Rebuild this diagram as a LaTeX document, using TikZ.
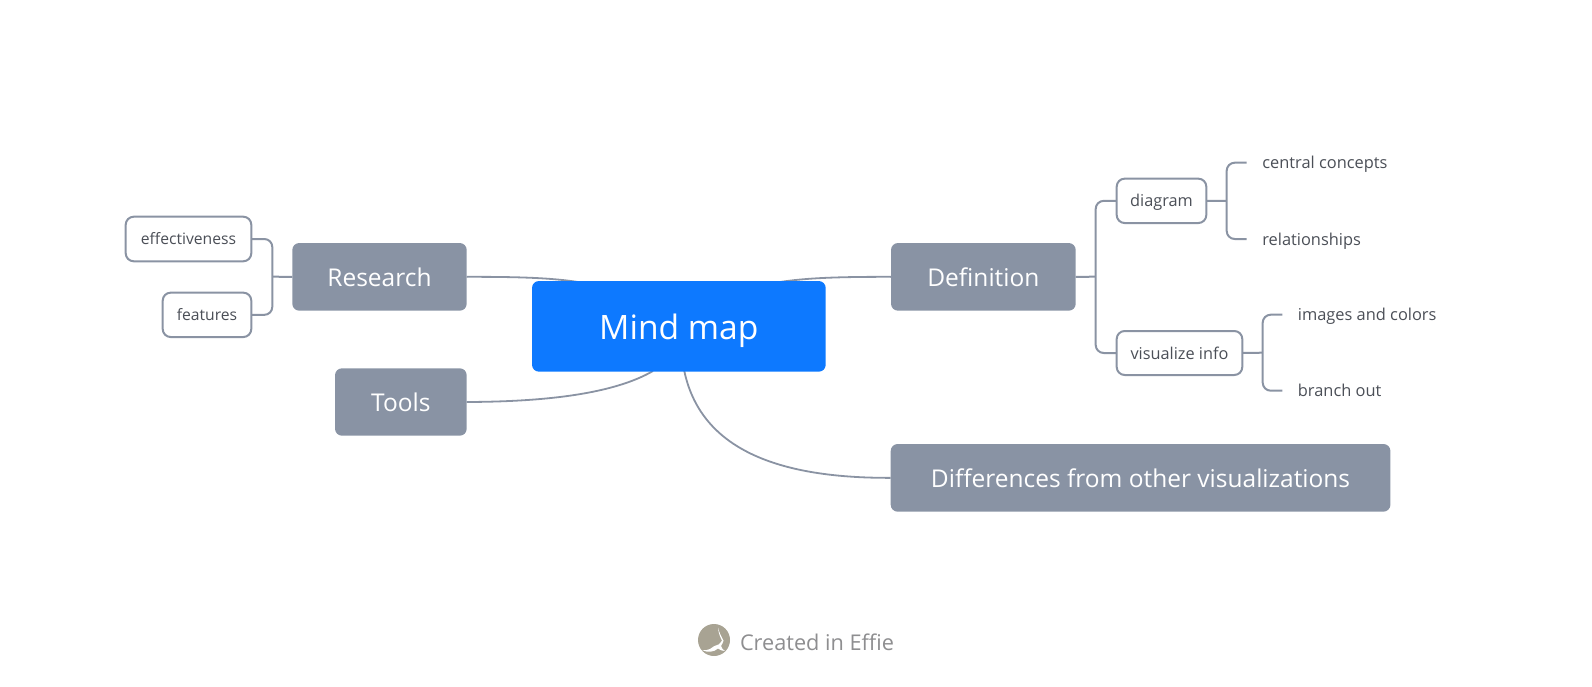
\documentclass[tikz,border=0pt]{standalone}
\usepackage{fontspec}
\usetikzlibrary{backgrounds}
\setmainfont{Open Sans}
\definecolor{slate}{HTML}{8993A4}
\definecolor{linec}{HTML}{8A93A3}
\definecolor{bluec}{HTML}{0D79FF}
\definecolor{inkc}{HTML}{4B4F57}
\definecolor{footc}{HTML}{8E8E90}
\definecolor{logoc}{HTML}{A8A393}
\tikzset{
  every node/.style={inner sep=0pt,outer sep=0pt,execute at begin node={\rule[-.24em]{0pt}{1.234em}}},
  rootbox/.style={fill=bluec,text=white,rounded corners=7pt,font=\fontsize{33.6}{40}\selectfont},
  topicbox/.style={fill=slate,text=white,rounded corners=7pt,font=\fontsize{24.5}{30}\selectfont},
  subbox/.style={draw=linec,line width=2pt,fill=white,text=inkc,rounded corners=8pt,font=\fontsize{16.3}{20}\selectfont},
  leaftext/.style={anchor=west,text=inkc,font=\fontsize{16.4}{20}\selectfont},
  conn/.style={draw=linec,line width=1.8pt},
  elbow/.style={draw=linec,line width=2pt,rounded corners=8pt},
}
\begin{document}
\begin{tikzpicture}[x=1pt,y=-1pt]
\useasboundingbox (0,0) rectangle (1592,687);
\coordinate (mA) at (578,282);
\coordinate (mB) at (780,282);
\coordinate (mC) at (653,371);
\coordinate (mD) at (684.3,371);
\node[rootbox,minimum width=293.7pt,minimum height=90.7pt] (main) at (678.85,326.35) {Mind map};
\node[topicbox,minimum width=174.4pt,minimum height=67.7pt] (research) at (379.5,276.85) {Research};
\node[topicbox,minimum width=131.7pt,minimum height=67.4pt] (tools) at (400.85,402) {Tools};
\node[topicbox,minimum width=184.7pt,minimum height=67.7pt] (definition) at (983.35,276.85) {Definition};
\node[topicbox,minimum width=499.7pt,minimum height=67.7pt] (diff) at (1140.55,477.85) {Differences from other visualizations};
\begin{scope}[on background layer]
\draw[conn] (research.east) .. controls (520,276.7) and (552,278) .. (mA);
\draw[conn] (definition.west) .. controls (838,276.7) and (806,278) .. (mB);
\draw[conn] (tools.east) .. controls (550,401.7) and (615,393) .. (mC);
\draw[conn] (diff.west) .. controls (770,478.3) and (700,445) .. (mD);
\end{scope}
\node[subbox,minimum width=125.6pt,minimum height=44.6pt,font=\fontsize{15.7}{20}\selectfont] (eff) at (188.5,239) {effectiveness};
\node[subbox,minimum width=88.6pt,minimum height=44.4pt,font=\fontsize{15.7}{20}\selectfont] (feat) at (207,314.85) {features};
\node[subbox,minimum width=89.6pt,minimum height=44.4pt] (diag) at (1161.5,200.85) {diagram};
\node[subbox,minimum width=125.6pt,minimum height=44pt] (viz) at (1179.5,353) {visualize info};
\node[leaftext,inner xsep=15.6pt] (cc) at (1246.7,162.7) {central concepts};
\node[leaftext,inner xsep=15.6pt] (rel) at (1246.7,239) {relationships};
\node[leaftext,inner xsep=15.6pt] (img) at (1282.3,314.7) {images and colors};
\node[leaftext,inner xsep=15.6pt] (br) at (1282.3,390.7) {branch out};
\coordinate (busA) at (272.3,276.7);
\coordinate (busB) at (1095.7,276.7);
\coordinate (busC) at (1226.7,200.8);
\coordinate (busD) at (1262.7,352.7);
\draw[elbow] (eff.east) -| (busA) |- (feat.east);
\draw[elbow] (research.west) -- (busA);
\draw[elbow] (diag.west) -| (busB) |- (viz.west);
\draw[elbow] (definition.east) -- (busB);
\draw[elbow] (cc.west) -| (busC) |- (rel.west);
\draw[elbow] (diag.east) -- (busC);
\draw[elbow] (img.west) -| (busD) |- (br.west);
\draw[elbow] (viz.east) -- (busD);
\fill[logoc] (714,640) circle (16);
\fill[white] (718,627.5) .. controls (718.5,633) and (720,637) .. (722,640.5) .. controls (720.5,642) and (720,644) .. (718.5,644.5)
  .. controls (715,645) and (713,647) .. (710,649) .. controls (708,650) and (705,650.5) .. (702,650)
  .. controls (708,653) and (714,652) .. (718,648.5) .. controls (720,650) and (722,651) .. (725,651)
  .. controls (723,650) and (721.5,648) .. (721,646) .. controls (722,644) and (723.5,642) .. (723.5,640.5) .. controls (721,636) and (719,632) .. (718,627.5) -- cycle;
\node[anchor=west,text=footc,font=\fontsize{21.7}{26}\selectfont] (foot) at (740,642) {Created in Effie};
\end{tikzpicture}
\end{document}
